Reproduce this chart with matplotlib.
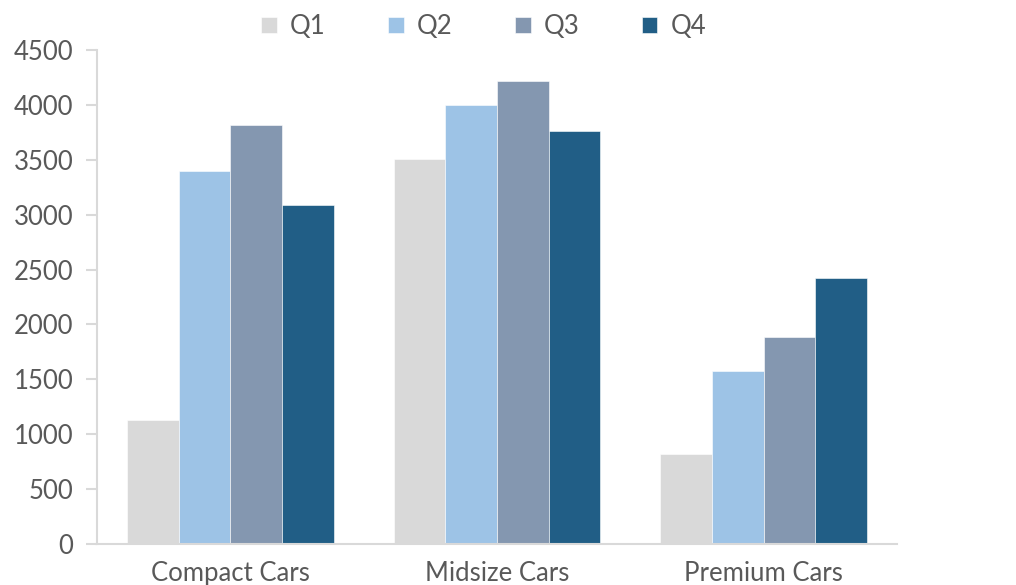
import matplotlib
matplotlib.use("Agg")
import matplotlib.pyplot as plt
import numpy as np

categories = ["Compact Cars", "Midsize Cars", "Premium Cars"]
series_names = ["Q1", "Q2", "Q3", "Q4"]
q1 = [1130, 3510, 820]
q2 = [3400, 4000, 1580]
q3 = [3820, 4220, 1890]
q4 = [3090, 3760, 2420]
yticks = [0, 500, 1000, 1500, 2000, 2500, 3000, 3500, 4000, 4500]
colors = ["#d9d9d9", "#9dc3e6", "#8497b0", "#215e86"]

plt.rcParams['font.family'] = ['Lato', 'DejaVu Sans']

fig = plt.figure(figsize=(10.16, 5.85), dpi=100)
ax = fig.add_axes([97/1016, 1-544/585, (897-97)/1016, (544-50)/585])

x = np.arange(len(categories))
w = 0.194
data = [q1, q2, q3, q4]
handles = []
for i, (vals, name, c) in enumerate(zip(data, series_names, colors)):
    b = ax.bar(x + (i - 1.5) * w, vals, width=w, color=c, label=name,
               edgecolor="white", linewidth=0.4, zorder=2)
    handles.append(b)

ax.set_xlim(-0.5, 2.5)
ax.set_ylim(0, 4500)
ax.set_yticks(yticks)
ax.set_yticklabels([str(t) for t in yticks])
ax.set_xticks(x)
ax.set_xticklabels(categories)

for s in ["top", "right"]:
    ax.spines[s].set_visible(False)
for s in ["left", "bottom"]:
    ax.spines[s].set_color("#d9d9d9")
    ax.spines[s].set_linewidth(1.5)
ax.tick_params(axis="y", length=8, width=1.5, color="#d9d9d9",
               labelsize=18.5, labelcolor="#595959", pad=9)
ax.tick_params(axis="x", length=0, labelsize=18.5, labelcolor="#595959", pad=12)

fig.legend(handles=handles, labels=series_names, loc="upper center",
           bbox_to_anchor=(0.476, 1.016), ncol=4, frameon=False,
           fontsize=18.5, labelcolor="#595959", handlelength=0.6,
           handleheight=0.6, handletextpad=0.5, columnspacing=2.45)

fig.savefig("out.png", dpi=100)
